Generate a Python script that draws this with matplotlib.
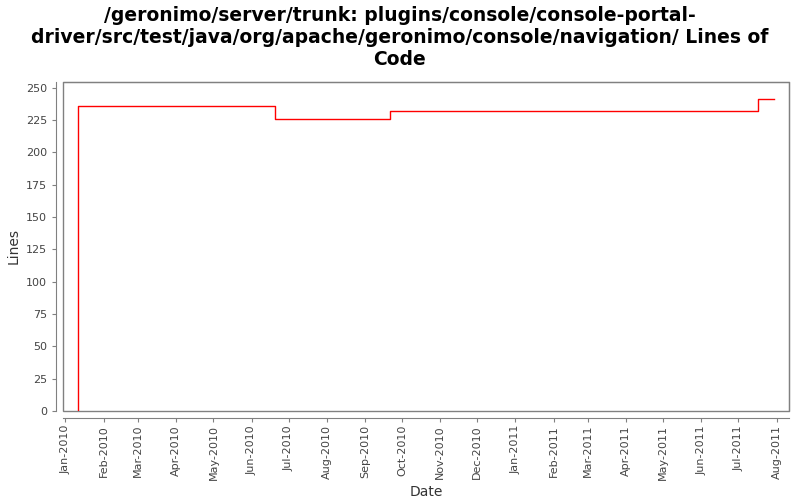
import matplotlib
matplotlib.use("Agg")
import matplotlib.pyplot as plt
import matplotlib.dates as mdates
from matplotlib.patches import Rectangle
import numpy as np
from datetime import datetime

# data (step changes in lines of code)
dates = ["2010-01-11", "2010-01-11", "2010-06-20", "2010-09-21", "2011-07-17", "2011-07-30"]
lines = [0, 236, 226, 232, 241, 241]

title = ("/geronimo/server/trunk: plugins/console/console-portal-\n"
         "driver/src/test/java/org/apache/geronimo/console/navigation/ Lines of\n"
         "Code")

x = [datetime.strptime(d, "%Y-%m-%d") for d in dates]

fig = plt.figure(figsize=(8, 5), dpi=100)
ax = fig.add_axes([63 / 800, 1 - 411 / 500, (789 - 63) / 800, (411 - 82) / 500])

ax.step(x, lines, where="post", color="red", lw=1)

ax.set_xlim(datetime(2009, 12, 30), datetime(2011, 8, 11))
ax.set_ylim(0, 254.4)
ax.set_yticks(np.arange(0, 251, 25))

ax.xaxis.set_major_locator(mdates.MonthLocator())
ax.xaxis.set_major_formatter(mdates.DateFormatter("%b-%Y"))
ax.tick_params(axis="x", labelrotation=90, pad=2)

grey = "#808080"
for s in ["top", "right"]:
    ax.spines[s].set_color(grey)
for s in ["left", "bottom"]:
    ax.spines[s].set_position(("outward", 5))
    ax.spines[s].set_color(grey)
ax.add_patch(Rectangle((0, 0), 1, 1, transform=ax.transAxes, fill=False,
                       edgecolor=grey, lw=1, clip_on=False))

ax.tick_params(colors=grey, labelcolor="#444444", labelsize=8, length=3)
ax.set_xlabel("Date", fontsize=10, color="#333333", labelpad=4)
ax.set_ylabel("Lines", fontsize=10, color="#333333")

fig.text(0.5, 0.988, title, ha="center", va="top", fontsize=13.5, fontweight="bold",
         family="DejaVu Sans", linespacing=1.2)

fig.savefig("out.png", dpi=100)
